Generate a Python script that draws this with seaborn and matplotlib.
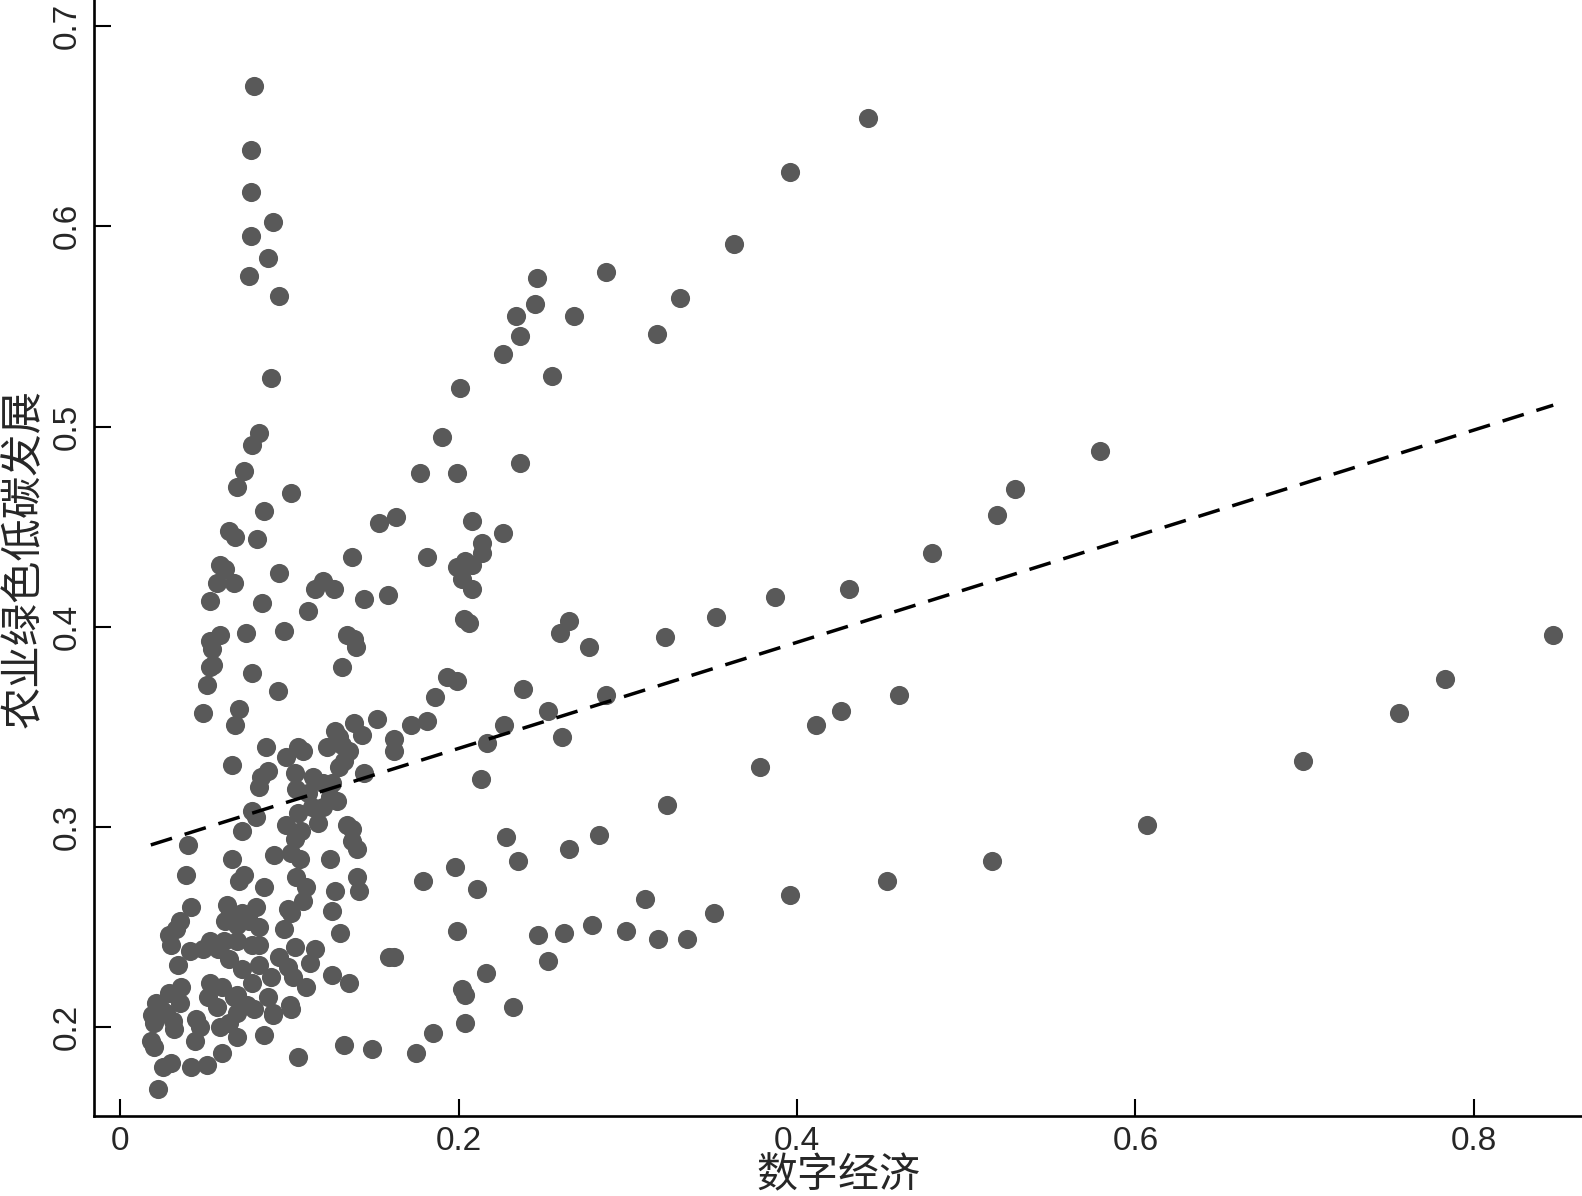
import numpy as np
import pandas as pd
import matplotlib
matplotlib.use("Agg")
import matplotlib.pyplot as plt
import seaborn as sns

x_vals = [
    0.079, 0.077, 0.077, 0.090, 0.077, 0.087, 0.076, 0.094, 0.089, 0.082,
    0.078, 0.073, 0.101, 0.069, 0.085, 0.064, 0.068, 0.081, 0.059, 0.062,
    0.057, 0.067, 0.094, 0.053, 0.084, 0.111, 0.097, 0.074, 0.059, 0.053,
    0.054, 0.053, 0.055, 0.078, 0.051, 0.093, 0.070, 0.049, 0.068, 0.086,
    0.066,
    0.115, 0.120, 0.126, 0.137, 0.144, 0.158, 0.138, 0.134, 0.139, 0.131,
    0.153, 0.163, 0.181, 0.177, 0.190, 0.201, 0.199, 0.199, 0.202, 0.204,
    0.208, 0.208, 0.214, 0.214, 0.208, 0.203, 0.206, 0.226, 0.236, 0.226,
    0.236, 0.234, 0.245, 0.246, 0.255, 0.268, 0.287, 0.317, 0.331, 0.363,
    0.396, 0.442, 0.579, 0.529, 0.518, 0.480, 0.431, 0.387, 0.352, 0.265,
    0.260, 0.277, 0.322, 0.847, 0.783, 0.756, 0.699, 0.607, 0.515, 0.453,
    0.396, 0.460, 0.426, 0.411, 0.378, 0.323, 0.287, 0.238, 0.253, 0.261,
    0.227, 0.217, 0.213, 0.199, 0.193, 0.186, 0.181, 0.172, 0.152, 0.162,
    0.162, 0.138, 0.143, 0.144, 0.137, 0.140, 0.140, 0.141, 0.179, 0.198,
    0.211, 0.228, 0.235, 0.265, 0.283, 0.279, 0.262, 0.247, 0.299, 0.310,
    0.318, 0.335, 0.351, 0.253, 0.216, 0.202, 0.204, 0.204, 0.232, 0.199,
    0.185, 0.175, 0.149, 0.132, 0.105, 0.135, 0.125, 0.159, 0.162, 0.130,
    0.125, 0.127, 0.124, 0.134, 0.137,
    0.022, 0.025, 0.030, 0.042, 0.051, 0.060, 0.069, 0.085, 0.044, 0.020,
    0.018, 0.020, 0.019, 0.021, 0.024, 0.027, 0.031, 0.029, 0.032, 0.036,
    0.035, 0.045, 0.047, 0.052, 0.053, 0.057, 0.059, 0.060, 0.064, 0.069,
    0.067, 0.069, 0.075, 0.079, 0.078, 0.087, 0.090, 0.100, 0.110, 0.112,
    0.102, 0.099, 0.089, 0.082, 0.072, 0.064, 0.058, 0.049, 0.041, 0.034,
    0.030, 0.029, 0.033, 0.035, 0.042, 0.039, 0.040, 0.053, 0.061, 0.069,
    0.078, 0.082, 0.069, 0.062, 0.065, 0.063, 0.072, 0.076, 0.082, 0.080,
    0.085, 0.070, 0.073, 0.066, 0.072, 0.080, 0.078, 0.082, 0.083, 0.087,
    0.098, 0.105, 0.108, 0.103, 0.104, 0.114, 0.120, 0.111, 0.113, 0.105,
    0.098, 0.103, 0.107, 0.117, 0.120, 0.124, 0.128, 0.125, 0.129, 0.132,
    0.135, 0.131, 0.122, 0.127, 0.129, 0.091, 0.101, 0.106, 0.104, 0.110,
    0.108, 0.101, 0.099, 0.097, 0.103, 0.115, 0.094, 0.101, 0.090,
]

y_vals = [
    0.670, 0.638, 0.617, 0.602, 0.595, 0.584, 0.575, 0.565, 0.524, 0.497,
    0.491, 0.478, 0.467, 0.470, 0.458, 0.448, 0.445, 0.444, 0.431, 0.429,
    0.422, 0.422, 0.427, 0.413, 0.412, 0.408, 0.398, 0.397, 0.396, 0.393,
    0.389, 0.380, 0.381, 0.377, 0.371, 0.368, 0.359, 0.357, 0.351, 0.340,
    0.331,
    0.419, 0.423, 0.419, 0.435, 0.414, 0.416, 0.394, 0.396, 0.390, 0.380,
    0.452, 0.455, 0.435, 0.477, 0.495, 0.519, 0.477, 0.430, 0.424, 0.433,
    0.419, 0.453, 0.442, 0.437, 0.431, 0.404, 0.402, 0.447, 0.482, 0.536,
    0.545, 0.555, 0.561, 0.574, 0.525, 0.555, 0.577, 0.546, 0.564, 0.591,
    0.627, 0.654, 0.488, 0.469, 0.456, 0.437, 0.419, 0.415, 0.405, 0.403,
    0.397, 0.390, 0.395, 0.396, 0.374, 0.357, 0.333, 0.301, 0.283, 0.273,
    0.266, 0.366, 0.358, 0.351, 0.330, 0.311, 0.366, 0.369, 0.358, 0.345,
    0.351, 0.342, 0.324, 0.373, 0.375, 0.365, 0.353, 0.351, 0.354, 0.344,
    0.338, 0.352, 0.346, 0.327, 0.293, 0.289, 0.275, 0.268, 0.273, 0.280,
    0.269, 0.295, 0.283, 0.289, 0.296, 0.251, 0.247, 0.246, 0.248, 0.264,
    0.244, 0.244, 0.257, 0.233, 0.227, 0.219, 0.216, 0.202, 0.210, 0.248,
    0.197, 0.187, 0.189, 0.191, 0.185, 0.222, 0.226, 0.235, 0.235, 0.247,
    0.258, 0.268, 0.284, 0.301, 0.299,
    0.169, 0.180, 0.182, 0.180, 0.181, 0.187, 0.195, 0.196, 0.193, 0.190,
    0.193, 0.202, 0.206, 0.212, 0.209, 0.207, 0.203, 0.217, 0.199, 0.220,
    0.212, 0.204, 0.200, 0.215, 0.222, 0.210, 0.200, 0.220, 0.202, 0.207,
    0.215, 0.216, 0.211, 0.209, 0.222, 0.215, 0.207, 0.211, 0.220, 0.232,
    0.225, 0.230, 0.225, 0.231, 0.229, 0.234, 0.239, 0.239, 0.238, 0.231,
    0.241, 0.246, 0.249, 0.253, 0.260, 0.276, 0.291, 0.243, 0.243, 0.243,
    0.241, 0.241, 0.251, 0.253, 0.257, 0.261, 0.257, 0.253, 0.250, 0.260,
    0.270, 0.273, 0.276, 0.284, 0.298, 0.305, 0.308, 0.320, 0.325, 0.328,
    0.335, 0.340, 0.338, 0.327, 0.319, 0.325, 0.322, 0.317, 0.310, 0.307,
    0.301, 0.294, 0.298, 0.302, 0.310, 0.315, 0.313, 0.322, 0.330, 0.333,
    0.338, 0.341, 0.340, 0.348, 0.345, 0.286, 0.287, 0.284, 0.275, 0.270,
    0.263, 0.257, 0.259, 0.249, 0.240, 0.239, 0.235, 0.209, 0.206,
]

# fitted line
fit_intercept = 0.2863
fit_slope = 0.2649

x_ticks = [0, 0.2, 0.4, 0.6, 0.8]
x_tick_labels = ["0", "0.2", "0.4", "0.6", "0.8"]
y_ticks = [0.2, 0.3, 0.4, 0.5, 0.6, 0.7]
y_tick_labels = ["0.2", "0.3", "0.4", "0.5", "0.6", "0.7"]
x_label = "数字经济"
y_label = "农业绿色低碳发展"

df = pd.DataFrame({"x": x_vals, "y": y_vals})
fit_x = [df["x"].min(), df["x"].max()]
fit_df = pd.DataFrame({"x": fit_x,
                       "y": [fit_intercept + fit_slope * v for v in fit_x]})

sns.set_theme(style="ticks")
plt.rcParams["font.family"] = ["Liberation Sans", "Noto Sans CJK SC", "DejaVu Sans"]

fig = plt.figure(figsize=(15.82, 11.96), dpi=100)
ax = fig.add_axes([0.0595, 0.0667, 0.9405, 0.9333])

sns.scatterplot(data=df, x="x", y="y", ax=ax, color="#595959", s=190,
                linewidth=0, alpha=1, zorder=2)
sns.lineplot(data=fit_df, x="x", y="y", ax=ax, color="black", lw=2.5,
             dashes=False, zorder=3, estimator=None, sort=False)
ax.lines[-1].set_linestyle((0, (6.4, 3.8)))

ax.set_xlim(-0.0155, 0.864)
ax.set_ylim(0.1556, 0.713)
ax.set_xticks(x_ticks)
ax.set_xticklabels(x_tick_labels)
ax.set_yticks(y_ticks)
ax.set_yticklabels(y_tick_labels, rotation=90, va="center")
ax.tick_params(axis="both", direction="in", length=12, width=1.5,
               labelsize=24, color="black")
ax.tick_params(axis="x", pad=7)
ax.tick_params(axis="y", pad=8)
for lab in ax.get_yticklabels():
    lab.set_verticalalignment("center")

ax.set_xlabel(x_label, fontsize=29.5, family=["Noto Sans CJK SC"])
ax.set_ylabel(y_label, fontsize=30.5, family=["Noto Sans CJK SC"])
ax.xaxis.set_label_coords(0.5, -0.0535)
ax.xaxis.label.set_verticalalignment("center")
ax.yaxis.set_label_coords(-0.0475, 0.5)
ax.yaxis.label.set_verticalalignment("center")

for side in ["top", "right"]:
    ax.spines[side].set_visible(False)
for side in ["left", "bottom"]:
    ax.spines[side].set_linewidth(1.9)
    ax.spines[side].set_color("black")
ax.grid(False)

fig.savefig("out.png", dpi=100)
